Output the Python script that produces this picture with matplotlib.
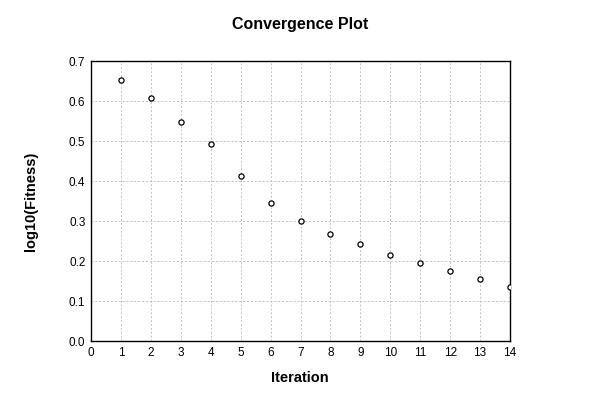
import matplotlib
matplotlib.use("Agg")
import matplotlib.pyplot as plt

iterations = [1, 2, 3, 4, 5, 6, 7, 8, 9, 10, 11, 12, 13, 14]
log_fitness = [0.652, 0.607, 0.547, 0.492, 0.412, 0.345, 0.300, 0.267,
               0.242, 0.214, 0.194, 0.174, 0.154, 0.136]
x_ticks = list(range(0, 15))
y_ticks = [0.0, 0.1, 0.2, 0.3, 0.4, 0.5, 0.6, 0.7]

plt.rcParams['font.family'] = ['Liberation Sans', 'DejaVu Sans']

fig = plt.figure(figsize=(6, 4), dpi=100)
ax = fig.add_axes([91 / 600, 1 - 341 / 400, 419 / 600, 280 / 400])
ax.scatter(iterations, log_fitness, s=14, facecolors='white',
           edgecolors='black', linewidths=0.9, zorder=3, clip_on=True)
ax.set_xlim(0, 14)
ax.set_ylim(0, 0.7)
ax.set_xticks(x_ticks)
ax.set_yticks(y_ticks)
ax.set_yticklabels([f"{v:.1f}" for v in y_ticks])
ax.tick_params(length=0, labelsize=8.5, pad=4)
ax.grid(True, color='#c0c0c0', linestyle=(0, (2, 2)), linewidth=0.7)
ax.set_axisbelow(True)
for sp in ax.spines.values():
    sp.set_linewidth(1.0)
    sp.set_color('black')

fig.text(300 / 600, 1 - 24 / 400, "Convergence Plot", ha='center', va='center',
         fontsize=11.5, fontweight='bold')
fig.text(300 / 600, 1 - 378 / 400, "Iteration", ha='center', va='center',
         fontsize=10.5, fontweight='bold')
fig.text(31 / 600, 1 - 201 / 400, "log10(Fitness)", ha='center', va='center',
         rotation=90, fontsize=10.5, fontweight='bold')

fig.savefig("out.png", dpi=100)
